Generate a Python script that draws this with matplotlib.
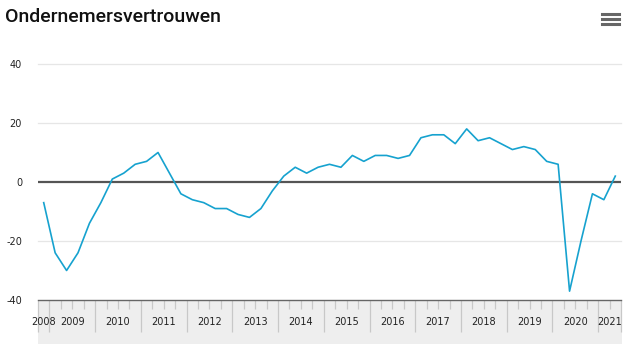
import numpy as np
import matplotlib
matplotlib.use('Agg')
import matplotlib.pyplot as plt
from matplotlib.lines import Line2D
from matplotlib.patches import Rectangle

# Quarterly values, 2008 Q4 .. 2021 Q2
years = ['2008', '2009', '2010', '2011', '2012', '2013', '2014',
         '2015', '2016', '2017', '2018', '2019', '2020', '2021']
quarters_per_year = [1, 4, 4, 4, 4, 4, 4, 4, 4, 4, 4, 4, 4, 2]
vertrouwen = [-7,
              -24, -30, -24, -14,
              -7, 1, 3, 6,
              7, 10, 3, -4,
              -6, -7, -9, -9,
              -11, -12, -9, -3,
              2, 5, 3, 5,
              6, 5, 9, 7,
              9, 9, 8, 9,
              15, 16, 16, 13,
              18, 14, 15, 13,
              11, 12, 11, 7,
              6, -37, -20, -4,
              -6, 2]
y_ticks = [-40, -20, 0, 20, 40]

W, H = 633, 344
fig = plt.figure(figsize=(W / 100, H / 100), dpi=100)

# plot area in pixels
x0, x1, ytop, ybot = 38, 621, 64, 300
ax = fig.add_axes([x0 / W, 1 - ybot / H, (x1 - x0) / W, (ybot - ytop) / H])

# gray band under the axis
band_h = (H - ybot) / (ybot - ytop)
ax.add_patch(Rectangle((0, -band_h), 1.0015, band_h, transform=ax.transAxes,
                       facecolor='#eeeeee', edgecolor='none', clip_on=False, zorder=0))

n = len(vertrouwen)
xs = np.arange(n) + 0.5
ax.set_xlim(0, n)
ax.set_ylim(-40, 40)

for v in y_ticks[1:]:
    if v == 0:
        continue
    ax.axhline(v, color='#e6e6e6', linewidth=0.9, zorder=1, clip_on=False)
ax.axhline(0, color='#555555', linewidth=1.6, zorder=2)

ax.plot(xs, vertrouwen, color='#16a2cf', linewidth=1.2, zorder=3)

# x axis: year boundaries + quarter ticks
bounds = np.concatenate([[0], np.cumsum(quarters_per_year)])
ax.set_xticks(bounds)
ax.set_xticklabels([])
ax.set_xticks([q for q in range(n + 1) if q not in bounds], minor=True)
ax.tick_params(axis='x', which='major', length=23, width=0.9, color='#c8c8c8', direction='out')
ax.tick_params(axis='x', which='minor', length=6.5, width=0.9, color='#c8c8c8', direction='out')
centers = (bounds[:-1] + bounds[1:]) / 2
for c, lab in zip(centers, years):
    ax.text(c, -0.093, lab, transform=ax.get_xaxis_transform(), ha='center',
            va='center', fontsize=7, color='#222222', zorder=4)

ax.set_yticks(y_ticks)
ax.set_yticklabels([str(v) for v in y_ticks])
ax.tick_params(axis='y', length=0, pad=11.5, labelsize=7, labelcolor='#222222')

for side in ['top', 'right', 'left']:
    ax.spines[side].set_visible(False)
ax.spines['bottom'].set_color('#666666')
ax.spines['bottom'].set_linewidth(1.0)

fig.text(5 / W, 1 - 22 / H, 'Ondernemersvertrouwen', fontsize=14,
         family='Roboto', fontweight='medium', color='#111111',
         va='baseline', ha='left')

# menu icon
for yy in [14, 19, 24]:
    fig.add_artist(Line2D([602 / W, 619 / W], [1 - yy / H, 1 - yy / H],
                          color='#666666', linewidth=2.2, transform=fig.transFigure))

fig.savefig('out.png', dpi=100)
